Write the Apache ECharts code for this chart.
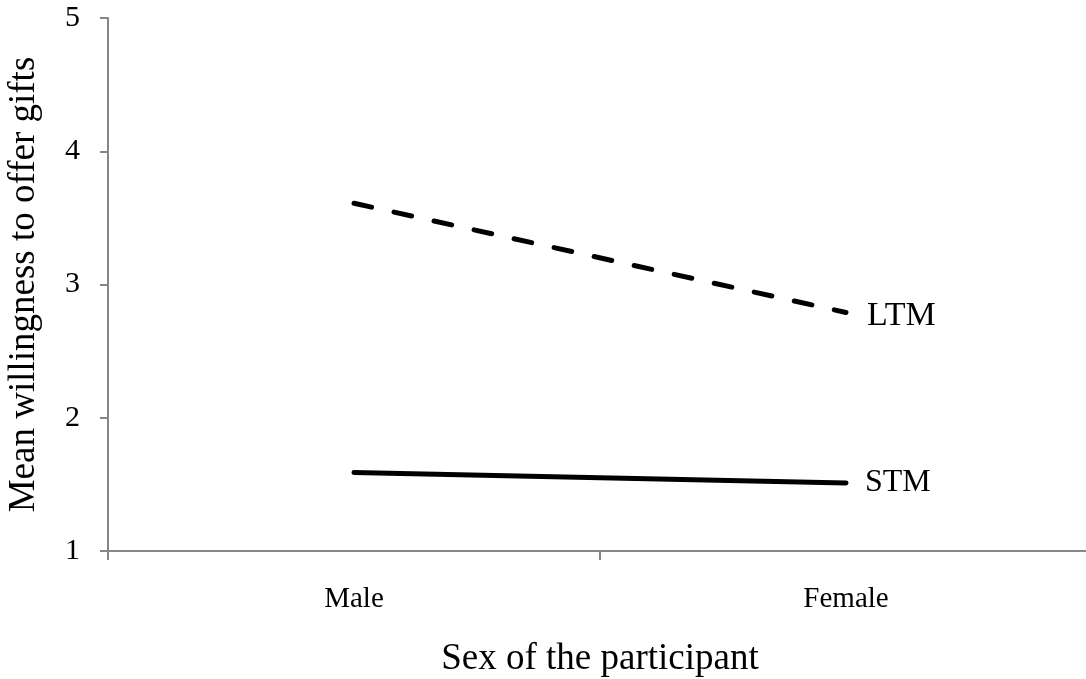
<!DOCTYPE html>
<html><head><meta charset="utf-8">
<script src="https://cdn.jsdelivr.net/npm/echarts@6/dist/echarts.min.js"></script>
<style>html,body{margin:0;padding:0;background:#fff}#c{width:1086px;height:679px}</style>
</head><body><div id="c"></div>
<script>
const categories = ['Male', 'Female'];
const ltmValues = [3.61, 2.79];
const stmValues = [1.59, 1.51];
const seriesNames = ['LTM', 'STM'];
const yTicks = [1, 2, 3, 4, 5];

const font = '"Liberation Serif", "Times New Roman", serif';
const chart = echarts.init(document.getElementById('c'));
chart.setOption({
  animation: false,
  backgroundColor: '#fff',
  grid: { left: 108, right: -6, top: 18, bottom: 128, containLabel: false, outerBoundsMode: 'none' },
  xAxis: {
    type: 'category', data: categories, boundaryGap: true,
    name: 'Sex of the participant', nameLocation: 'middle', nameGap: 90,
    nameTextStyle: { fontFamily: font, fontSize: 37, color: '#000' },
    axisLine: { lineStyle: { color: '#868686', width: 2 } },
    axisTick: { show: true, length: 9, lineStyle: { color: '#868686', width: 2 } },
    axisLabel: { fontFamily: font, fontSize: 29, color: '#000', margin: 34 },
    splitLine: { show: false }
  },
  yAxis: {
    type: 'value', min: yTicks[0], max: yTicks[yTicks.length - 1], interval: 1,
    name: 'Mean willingness to offer gifts', nameLocation: 'middle', nameGap: 65,
    nameTextStyle: { fontFamily: font, fontSize: 37, color: '#000' },
    axisLine: { show: true, lineStyle: { color: '#868686', width: 2 } },
    axisTick: { show: true, length: 8, lineStyle: { color: '#868686', width: 2 } },
    axisLabel: { fontFamily: font, fontSize: 30, color: '#000', margin: 28 },
    splitLine: { show: false }
  },
  series: [
    {
      name: seriesNames[0], type: 'line', data: ltmValues, symbol: 'none',
      lineStyle: { color: '#000', width: 5, type: [18, 23], cap: 'round' },
      endLabel: { show: true, formatter: '{a}', fontFamily: font, fontSize: 34, color: '#000', distance: 0, offset: [21, 4] }
    },
    {
      name: seriesNames[1], type: 'line', data: stmValues, symbol: 'none',
      lineStyle: { color: '#000', width: 5, cap: 'round' },
      endLabel: { show: true, formatter: '{a}', fontFamily: font, fontSize: 32, color: '#000', distance: 0, offset: [19, 0] }
    }
  ]
});
</script></body></html>
